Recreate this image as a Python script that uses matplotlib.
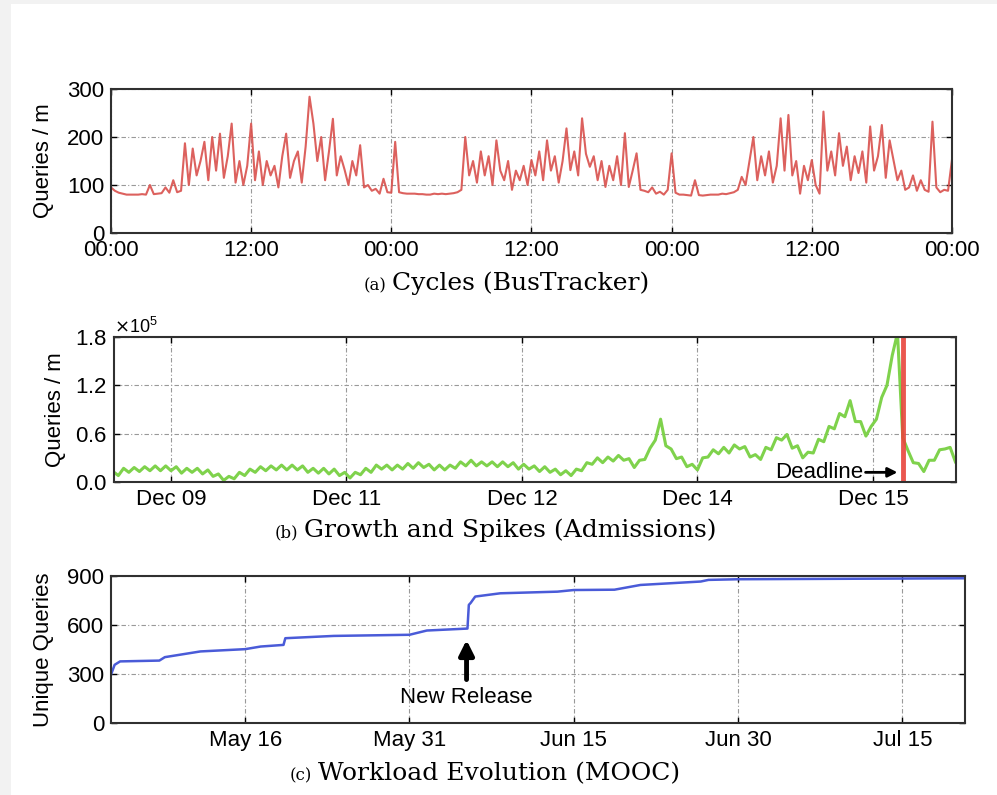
##````````````````````````````````````````````````````````````````````````````````````````````````##
# three workload traces: cycles, growth/spikes, evolution
import numpy as np
import pandas as pd
import matplotlib
matplotlib.use('Agg')
import matplotlib.pyplot as plt
from matplotlib.patches import Rectangle
from matplotlib.dates import DateFormatter

plt.rcParams['font.family'] = ['Liberation Sans', 'DejaVu Sans']

##````````````````````````````````````````````````````````````````````````````````````````````````##
# data

# (a) BusTracker queries per minute, one sample every 20 minutes over 3 days
bus_queries = [
    95, 88, 84, 82, 80, 80, 80, 80, 81, 80, 100, 81,
    82, 83, 95, 84, 110, 85, 88, 187, 100, 176, 120, 150,
    190, 110, 200, 130, 207, 115, 160, 228, 105, 150, 100, 140,
    228, 110, 170, 100, 150, 120, 140, 95, 160, 207, 115, 150,
    170, 105, 180, 284, 228, 150, 200, 110, 170, 238, 120, 160,
    132, 100, 150, 120, 183, 95, 100, 88, 92, 82, 113, 85,
    84, 190, 85, 83, 82, 82, 82, 81, 81, 80, 80, 82,
    81, 82, 81, 82, 83, 85, 90, 200, 120, 150, 105, 170,
    120, 160, 100, 193, 130, 110, 150, 90, 130, 110, 140, 100,
    152, 120, 170, 110, 193, 130, 160, 105, 150, 218, 131, 170,
    120, 239, 165, 138, 160, 110, 150, 96, 140, 110, 160, 100,
    208, 96, 130, 166, 90, 88, 85, 95, 82, 86, 80, 90,
    166, 84, 80, 80, 79, 78, 110, 79, 78, 79, 80, 80,
    80, 82, 81, 83, 85, 90, 117, 100, 150, 200, 110, 160,
    120, 170, 105, 140, 239, 130, 246, 120, 150, 82, 140, 110,
    152, 100, 82, 253, 130, 170, 120, 208, 140, 180, 110, 160,
    125, 170, 105, 222, 130, 160, 225, 115, 193, 152, 110, 130,
    90, 95, 120, 88, 110, 90, 86, 232, 95, 85, 90, 88,
    152]
bus_samples_per_hour = 3
bus_tick_hours = [0, 12, 24, 36, 48, 60, 72]
bus_tick_labels = ['00:00', '12:00', '00:00', '12:00', '00:00', '12:00', '00:00']

# (b) Admissions queries per minute (x 10^5), sampled every 0.03 of a tick step
adm_start = -0.33
adm_step = 0.03
adm_queries_e5 = [
    0.13, 0.08, 0.17, 0.12, 0.18, 0.13, 0.19, 0.14, 0.20, 0.14,
    0.20, 0.14, 0.19, 0.11, 0.17, 0.12, 0.17, 0.10, 0.15, 0.07,
    0.10, 0.02, 0.07, 0.04, 0.12, 0.08, 0.16, 0.12, 0.19, 0.14,
    0.20, 0.15, 0.21, 0.15, 0.21, 0.15, 0.20, 0.12, 0.17, 0.11,
    0.17, 0.10, 0.16, 0.08, 0.12, 0.05, 0.12, 0.09, 0.17, 0.12,
    0.21, 0.16, 0.21, 0.15, 0.21, 0.16, 0.23, 0.17, 0.24, 0.18,
    0.22, 0.15, 0.21, 0.15, 0.21, 0.17, 0.25, 0.20, 0.27, 0.20,
    0.25, 0.20, 0.25, 0.19, 0.25, 0.19, 0.24, 0.16, 0.22, 0.16,
    0.20, 0.13, 0.19, 0.12, 0.16, 0.09, 0.14, 0.08, 0.16, 0.14,
    0.24, 0.22, 0.30, 0.24, 0.31, 0.26, 0.33, 0.27, 0.29, 0.18,
    0.27, 0.28, 0.42, 0.52, 0.78, 0.45, 0.41, 0.29, 0.31, 0.19,
    0.22, 0.15, 0.30, 0.31, 0.40, 0.35, 0.43, 0.36, 0.46, 0.41,
    0.44, 0.31, 0.34, 0.28, 0.43, 0.40, 0.55, 0.52, 0.59, 0.42,
    0.45, 0.30, 0.37, 0.36, 0.53, 0.50, 0.69, 0.66, 0.85, 0.81,
    1.01, 0.75, 0.75, 0.57, 0.69, 0.78, 1.05, 1.20, 1.57, 1.85,
    0.55, 0.39, 0.24, 0.23, 0.13, 0.27, 0.27, 0.40, 0.41, 0.43,
    0.25]
adm_tick_labels = ['Dec 09', 'Dec 11', 'Dec 12', 'Dec 14', 'Dec 15']
adm_deadline = 4.17

# (c) MOOC unique queries over time
mooc_dates = [
    '2014-05-03 18:00', '2014-05-04 02:00', '2014-05-04 14:00', '2014-05-08 04:00',
    '2014-05-08 16:00', '2014-05-11 22:00', '2014-05-16 00:00', '2014-05-17 10:00',
    '2014-05-19 12:00', '2014-05-19 16:00', '2014-05-24 02:00', '2014-05-31 00:00',
    '2014-06-01 14:00', '2014-06-05 07:00', '2014-06-05 10:00', '2014-06-05 14:00',
    '2014-06-06 00:00', '2014-06-08 07:00', '2014-06-13 12:00', '2014-06-15 00:00',
    '2014-06-18 17:00', '2014-06-21 02:00', '2014-06-26 14:00', '2014-06-27 07:00',
    '2014-06-30 00:00', '2014-07-20 17:00']
mooc_unique = [
    295, 356, 377, 382, 403, 438, 452, 468, 478, 519, 533, 540, 566,
    578, 723, 735, 774, 794, 804, 814, 816, 845, 866, 876, 880, 886]
mooc_ticks = ['2014-05-16', '2014-05-31', '2014-06-15', '2014-06-30', '2014-07-15']
mooc_release = '2014-06-05 05:00'

##````````````````````````````````````````````````````````````````````````````````````````````````##
# figure and shared styling

fig = plt.figure(figsize=(9.97, 7.95), dpi=100, facecolor='#f2f2f2')
fig.patches.append(Rectangle((11 / 997, 0), 1, 1 - 4 / 795, transform=fig.transFigure,
                             facecolor='white', edgecolor='none', zorder=-10))

tick_size = 16
grid_style = dict(ls=(0, (4, 2, 1, 2)), color='#999999', lw=0.8)


def style_axes(ax):
    ax.grid(True, **grid_style)
    ax.tick_params(direction='in', top=True, right=True, length=4, width=1,
                   labelsize=tick_size, pad=5)
    for sp in ax.spines.values():
        sp.set_linewidth(1.5)
        sp.set_color('#303030')


def caption(x, y, tag, text):
    lab = fig.text(x, y, tag, ha='right', va='baseline', fontsize=12,
                   family='DejaVu Serif')
    fig.text(x + 6 / 997, y, text, ha='left', va='baseline', fontsize=18,
             family='DejaVu Serif')
    return lab


##````````````````````````````````````````````````````````````````````````````````````````````````##
# (a) cycles

ax1 = fig.add_axes([0.1113, 0.7069, 0.8435, 0.1811])
hours = np.arange(len(bus_queries)) / bus_samples_per_hour
ax1.plot(hours, bus_queries, color='#d9504c', lw=1.5, alpha=0.9)
ax1.set_xlim(0, 72)
ax1.set_ylim(0, 300)
ax1.set_xticks(bus_tick_hours)
ax1.set_xticklabels(bus_tick_labels)
ax1.set_yticks([0, 100, 200, 300])
ax1.set_ylabel('Queries / m', fontsize=tick_size, va='center')
ax1.yaxis.set_label_coords(-0.0797, 0.5)
style_axes(ax1)
caption(386 / 997, 1 - 290 / 795, '(a)', 'Cycles (BusTracker)')

##````````````````````````````````````````````````````````````````````````````````````````````````##
# (b) growth and spikes

ax2 = fig.add_axes([0.1143, 0.3937, 0.8445, 0.1824])
adm_x = adm_start + adm_step * np.arange(len(adm_queries_e5))
ax2.plot(adm_x, np.array(adm_queries_e5) * 1e5, color='#7fd24c', lw=2.2)
ax2.axvline(adm_deadline, color='#e8453c', lw=3.5, alpha=0.9)
ax2.set_xlim(-0.325, 4.473)
ax2.set_ylim(0, 1.8e5)
ax2.set_xticks(range(len(adm_tick_labels)))
ax2.set_xticklabels(adm_tick_labels)
ax2.set_yticks([0, 0.6e5, 1.2e5, 1.8e5])
ax2.ticklabel_format(axis='y', style='sci', scilimits=(5, 5), useMathText=True)
ax2.yaxis.get_offset_text().set_fontsize(13)
ax2.set_ylabel('Queries / m', fontsize=tick_size, va='center')
ax2.yaxis.set_label_coords(-0.070, 0.5)
ax2.annotate('Deadline', xy=(4.14, 0.12e5), xytext=(3.44, 0.12e5),
             ha='left', va='center', fontsize=tick_size,
             arrowprops=dict(arrowstyle='-|>', color='k', lw=2,
                             mutation_scale=14, shrinkA=0, shrinkB=0))
style_axes(ax2)
caption(298 / 997, 1 - 537 / 795, '(b)', 'Growth and Spikes (Admissions)')

##````````````````````````````````````````````````````````````````````````````````````````````````##
# (c) workload evolution

ax3 = fig.add_axes([0.1113, 0.0906, 0.8566, 0.1849])
ax3.plot(pd.to_datetime(mooc_dates), mooc_unique, color='#4a5bd8', lw=1.8)
ax3.set_xlim(pd.Timestamp(mooc_dates[0]), pd.Timestamp(mooc_dates[-1]))
ax3.set_ylim(0, 900)
ax3.set_xticks(pd.to_datetime(mooc_ticks))
ax3.xaxis.set_major_formatter(DateFormatter('%b %d'))
ax3.set_yticks([0, 300, 600, 900])
ax3.set_ylabel('Unique Queries', fontsize=tick_size, va='center')
ax3.yaxis.set_label_coords(-0.0785, 0.5)
rel = pd.Timestamp(mooc_release)
ax3.annotate('New Release', xy=(rel, 508), xytext=(rel, 159),
             ha='center', va='center', fontsize=tick_size,
             arrowprops=dict(arrowstyle='-|>', color='k', lw=3.5,
                             mutation_scale=22, shrinkA=3, shrinkB=0))
style_axes(ax3)
caption(312 / 997, 1 - 780 / 795, '(c)', 'Workload Evolution (MOOC)')

fig.savefig('out.png', dpi=100)
